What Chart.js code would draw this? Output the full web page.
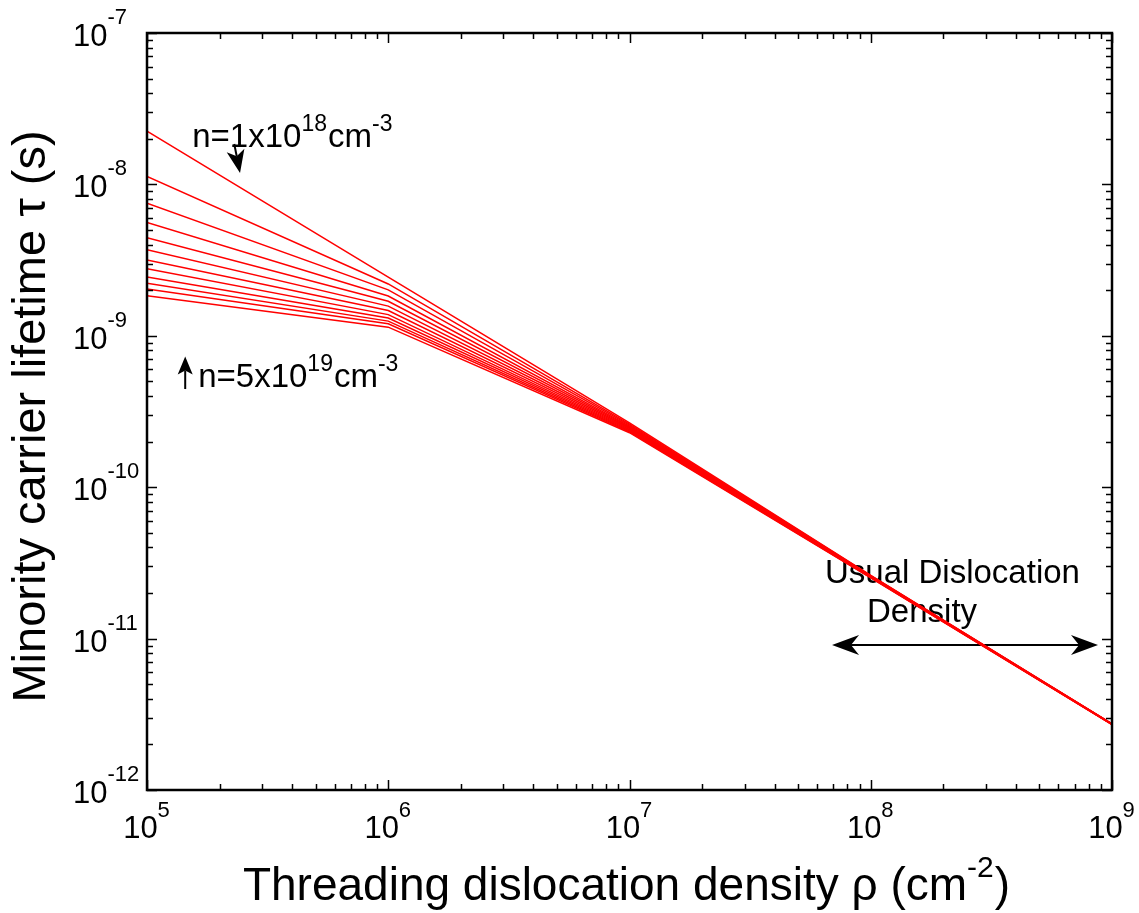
<!DOCTYPE html>
<html>
<head>
<meta charset="utf-8">
<title>Minority carrier lifetime vs threading dislocation density</title>
<script src="https://cdn.jsdelivr.net/npm/chart.js@4.4.1/dist/chart.umd.min.js"></script>
<style>
  html, body { margin: 0; padding: 0; background: #fff; }
</style>
</head>
<body>
<canvas id="chart" width="1139" height="913"></canvas>
<script>
// threading dislocation density (cm^-2), one point per decade
const densities = [1e5, 1e6, 1e7, 1e8, 1e9]

// lifetime (s) of each curve at each density, top curve (n=1e18) first, bottom (n=5e19) last
const tauAt1e5 = [2.25e-8, 1.13e-8, 7.5e-9, 5.6e-9, 4.45e-9, 3.7e-9, 3.17e-9, 2.77e-9, 2.45e-9, 2.22e-9, 2.04e-9, 1.84e-9]
const tauAt1e6 = [2.44e-9, 2.2e-9, 2.01e-9, 1.83e-9, 1.69e-9, 1.57e-9, 1.47e-9, 1.38e-9, 1.31e-9, 1.25e-9, 1.2e-9, 1.14e-9]
const tauAt1e7 = [2.66e-10, 2.61e-10, 2.57e-10, 2.53e-10, 2.5e-10, 2.47e-10, 2.44e-10, 2.41e-10, 2.38e-10, 2.35e-10, 2.32e-10, 2.29e-10]
const tauAt1e8 = [2.62e-11, 2.61e-11, 2.6e-11, 2.59e-11, 2.58e-11, 2.57e-11, 2.56e-11, 2.56e-11, 2.55e-11, 2.54e-11, 2.53e-11, 2.52e-11]
const tauAt1e9 = [2.73e-12, 2.73e-12, 2.73e-12, 2.72e-12, 2.72e-12, 2.72e-12, 2.72e-12, 2.71e-12, 2.71e-12, 2.71e-12, 2.71e-12, 2.7e-12]

// decade exponents used for the tick labels
const xExponents = [5, 6, 7, 8, 9]
const yExponents = [-12, -11, -10, -9, -8, -7]

const columns = [tauAt1e5, tauAt1e6, tauAt1e7, tauAt1e8, tauAt1e9]

const datasets = tauAt1e5.map((_, i) => ({
  data: densities.map((x, j) => ({ x: x, y: columns[j][i] })),
  borderColor: '#ff0000',
  borderWidth: 1.5,
  pointRadius: 0,
  showLine: true,
  fill: false,
  tension: 0,
}))

const FONT = '"Liberation Sans", Arial, Helvetica, sans-serif'

// write text made of normal and superscript pieces, starting at x on baseline y
function richText(ctx, parts, x, y, size, supSize, rise) {
  let cx = x
  parts.forEach((p) => {
    ctx.font = (p.sup ? supSize : size) + 'px ' + FONT
    ctx.fillText(p.t, cx, p.sup ? y - rise : y)
    cx += ctx.measureText(p.t).width + (p.sup ? 1 : 0)
  })
  return cx - x
}

function richWidth(ctx, parts, size, supSize) {
  let w = 0
  parts.forEach((p) => {
    ctx.font = (p.sup ? supSize : size) + 'px ' + FONT
    w += ctx.measureText(p.t).width + (p.sup ? 1 : 0)
  })
  return w
}

function arrow(ctx, x1, y1, x2, y2, len, half, notch) {
  const a = Math.atan2(y2 - y1, x2 - x1)
  const c = Math.cos(a)
  const s = Math.sin(a)
  ctx.beginPath()
  ctx.moveTo(x1, y1)
  ctx.lineTo(x2 - (len - notch) * c, y2 - (len - notch) * s)
  ctx.stroke()
  const bx = x2 - len * c
  const by = y2 - len * s
  ctx.beginPath()
  ctx.moveTo(x2, y2)
  ctx.lineTo(bx - half * s, by + half * c)
  ctx.lineTo(x2 - (len - notch) * c, y2 - (len - notch) * s)
  ctx.lineTo(bx + half * s, by - half * c)
  ctx.closePath()
  ctx.fill()
}

const annotations = {
  id: 'annotations',
  beforeDatasetsDraw(chart) {
    const { ctx, scales: { x, y } } = chart
    ctx.save()
    ctx.fillStyle = '#000'
    ctx.strokeStyle = '#000'
    ctx.textAlign = 'left'
    ctx.textBaseline = 'alphabetic'

    // n = 1e18 label with its down arrow
    richText(ctx, [
      { t: 'n=1x10' }, { t: '18', sup: true }, { t: 'cm' }, { t: '-3', sup: true },
    ], x.getPixelForValue(1.54e5), y.getPixelForValue(1.77e-8), 33, 23, 16)
    ctx.lineWidth = 2
    arrow(ctx, x.getPixelForValue(2.3e5), y.getPixelForValue(1.85e-8),
      x.getPixelForValue(2.43e5), y.getPixelForValue(1.19e-8), 23, 9, 6)

    // n = 5e19 label with its up arrow
    richText(ctx, [
      { t: 'n=5x10' }, { t: '19', sup: true }, { t: 'cm' }, { t: '-3', sup: true },
    ], x.getPixelForValue(1.63e5), y.getPixelForValue(4.59e-10), 33, 23, 16)
    arrow(ctx, x.getPixelForValue(1.44e5), y.getPixelForValue(4.45e-10),
      x.getPixelForValue(1.44e5), y.getPixelForValue(7.3e-10), 18, 7.5, 4)

    // usual dislocation density range
    ctx.font = '33px ' + FONT
    ctx.fillText('Usual Dislocation', x.getPixelForValue(6.46e7), y.getPixelForValue(2.33e-11))
    ctx.fillText('Density', x.getPixelForValue(9.65e7), y.getPixelForValue(1.29e-11))
    const ay = y.getPixelForValue(9.07e-12)
    const ax1 = x.getPixelForValue(6.91e7)
    const ax2 = x.getPixelForValue(8.75e8)
    ctx.lineWidth = 2
    arrow(ctx, (ax1 + ax2) / 2, ay, ax2, ay, 27, 10, 8)
    arrow(ctx, (ax1 + ax2) / 2, ay, ax1, ay, 27, 10, 8)
    ctx.restore()
  },
}

const frame = {
  id: 'frame',
  afterDatasetsDraw(chart) {
    const { ctx, chartArea: a, scales: { x, y } } = chart
    ctx.save()
    ctx.strokeStyle = '#000'
    ctx.fillStyle = '#000'

    // inward ticks on all four sides
    ctx.lineWidth = 1.5
    ctx.beginPath()
    xExponents.forEach((e) => {
      for (let k = 1; k <= 9; k++) {
        const v = k * Math.pow(10, e)
        if (v > 1e9 * 1.0001) break
        const px = Math.round(x.getPixelForValue(v)) + 0.5
        const len = k === 1 ? 10 : 6
        ctx.moveTo(px, a.bottom); ctx.lineTo(px, a.bottom - len)
        ctx.moveTo(px, a.top); ctx.lineTo(px, a.top + len)
      }
    })
    yExponents.forEach((e) => {
      for (let k = 1; k <= 9; k++) {
        const v = k * Math.pow(10, e)
        if (v > 1e-7 * 1.0001) break
        const py = Math.round(y.getPixelForValue(v)) + 0.5
        const len = k === 1 ? 10 : 6
        ctx.moveTo(a.left, py); ctx.lineTo(a.left + len, py)
        ctx.moveTo(a.right, py); ctx.lineTo(a.right - len, py)
      }
    })
    ctx.stroke()

    // box
    ctx.lineWidth = 2.5
    ctx.strokeRect(a.left, a.top, a.right - a.left, a.bottom - a.top)

    // tick labels 10^n
    ctx.textAlign = 'left'
    ctx.textBaseline = 'alphabetic'
    xExponents.forEach((e) => {
      const parts = [{ t: '10' }, { t: String(e), sup: true }]
      const w = richWidth(ctx, parts, 31, 22)
      richText(ctx, parts, x.getPixelForValue(Math.pow(10, e)) - w / 2, a.bottom + 48, 31, 22, 21)
    })
    yExponents.forEach((e) => {
      const parts = [{ t: '10' }, { t: String(e), sup: true }]
      richText(ctx, parts, a.left - 74, y.getPixelForValue(Math.pow(10, e)) + 13, 31, 22, 22)
    })

    // axis titles
    const xt = [{ t: 'Threading dislocation density \u03c1 (cm' }, { t: '-2', sup: true }, { t: ')' }]
    const xw = richWidth(ctx, xt, 46, 30)
    richText(ctx, xt, (a.left + a.right) / 2 - xw / 2 - 3, a.bottom + 110, 46, 30, 23)

    ctx.translate(a.left - 102, (a.top + a.bottom) / 2 + 5)
    ctx.rotate(-Math.PI / 2)
    ctx.font = '47px ' + FONT
    ctx.textAlign = 'center'
    ctx.fillText('Minority carrier lifetime \u03c4 (s)', 0, 0)
    ctx.restore()
  },
}

new Chart(document.getElementById('chart'), {
  type: 'scatter',
  data: { datasets },
  options: {
    responsive: false,
    animation: false,
    devicePixelRatio: 1,
    layout: { padding: { left: 147, right: 27, top: 33, bottom: 123 } },
    scales: {
      x: { type: 'logarithmic', min: 1e5, max: 1e9, display: false },
      y: { type: 'logarithmic', min: 1e-12, max: 1e-7, display: false },
    },
    plugins: {
      legend: { display: false },
      tooltip: { enabled: false },
    },
  },
  plugins: [annotations, frame],
})
</script>
</body>
</html>
